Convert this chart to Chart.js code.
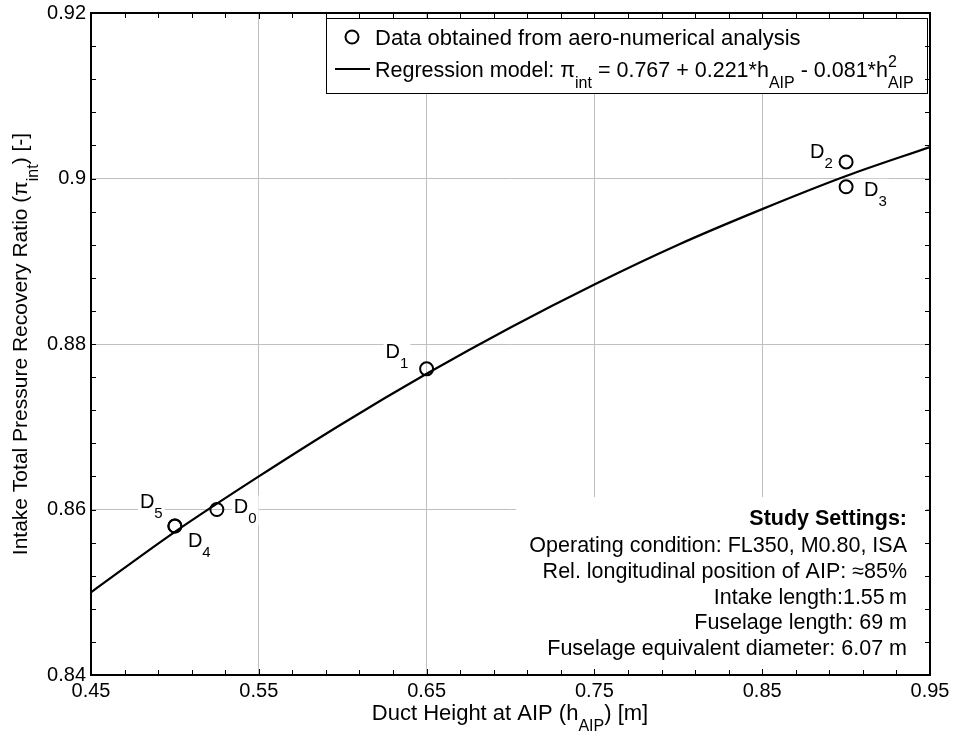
<!DOCTYPE html>
<html>
<head>
<meta charset="utf-8">
<script src="https://cdn.jsdelivr.net/npm/chart.js@4.4.0/dist/chart.umd.min.js"></script>
<style>
  html, body { margin: 0; padding: 0; background: #fff; }
</style>
</head>
<body>
<canvas id="ratioChart" width="957" height="733"></canvas>
<script>
// designs D0..D5 from the aero-numerical runs
const designNames = ['0', '1', '2', '3', '4', '5'];
const ductHeights = [0.525, 0.65, 0.90, 0.90, 0.50, 0.50];
const recoveryRatios = [0.860, 0.877, 0.902, 0.899, 0.858, 0.858];

// regression curve
const fitHeights = [0.45, 0.50, 0.55, 0.60, 0.65, 0.70, 0.75, 0.80, 0.85, 0.90, 0.95];
const fitRatios = [0.8500, 0.8573, 0.8640, 0.8704, 0.8764, 0.8820, 0.8872, 0.8920, 0.8963, 0.9003, 0.9038];

const xTickValues = [0.45, 0.55, 0.65, 0.75, 0.85, 0.95];
const xTickLabels = ['0.45', '0.55', '0.65', '0.75', '0.85', '0.95'];
const yTickValues = [0.84, 0.86, 0.88, 0.90, 0.92];
const yTickLabels = ['0.84', '0.86', '0.88', '0.9', '0.92'];

const settingsLines = [
    'Operating condition: FL350, M0.80, ISA',
    'Rel. longitudinal position of AIP: \u224885%',
    'Intake length:1.55\u2009m',
    'Fuselage length: 69 m',
    'Fuselage equivalent diameter: 6.07 m'
];

// where each D label sits relative to its marker (left of "D", baseline)
const labelOffsets = [[17, 3], [-41, -11], [-36, -4], [18, 9], [13, 21], [-35, -18]];

const FONT = '"Liberation Sans", Arial, Helvetica, sans-serif';

// text with optional sub/superscripts: parts are {t}, {sub}, {sup, sub}
function richWidth(ctx, parts, size) {
    let w = 0;
    parts.forEach(p => {
        if (p.t !== undefined) {
            ctx.font = size + 'px ' + FONT;
            w += ctx.measureText(p.t).width;
        } else {
            ctx.font = Math.round(size * 0.74) + 'px ' + FONT;
            const a = p.sub ? ctx.measureText(p.sub).width : 0;
            const b = p.sup ? ctx.measureText(p.sup).width : 0;
            w += Math.max(a, b);
        }
    });
    return w;
}

function drawRich(ctx, parts, x, y, size) {
    const small = Math.round(size * 0.74);
    ctx.textAlign = 'left';
    ctx.textBaseline = 'alphabetic';
    parts.forEach(p => {
        if (p.t !== undefined) {
            ctx.font = size + 'px ' + FONT;
            ctx.fillText(p.t, x, y);
            x += ctx.measureText(p.t).width;
        } else {
            ctx.font = small + 'px ' + FONT;
            let w = 0;
            if (p.sub) {
                ctx.fillText(p.sub, x, y + size * 0.52);
                w = ctx.measureText(p.sub).width;
            }
            if (p.sup) {
                ctx.fillText(p.sup, x, y - size * 0.48);
                w = Math.max(w, ctx.measureText(p.sup).width);
            }
            x += w;
        }
    });
}

const legendBox = { left: 326, top: 18, right: 928, bottom: 93 };
const settingsBox = { left: 516, top: 497, right: 926, bottom: 674 };

const annotations = {
    id: 'annotations',
    beforeDatasetsDraw(chart) {
        const ctx = chart.ctx;
        const xs = chart.scales.x, ys = chart.scales.y;
        ctx.save();
        ctx.fillStyle = '#fff';
        // label backgrounds hide the grid behind them
        designNames.forEach((n, i) => {
            const px = xs.getPixelForValue(ductHeights[i]) + labelOffsets[i][0];
            const py = ys.getPixelForValue(recoveryRatios[i]) + labelOffsets[i][1];
            const w = richWidth(ctx, [{ t: 'D' }, { sub: n }], 20);
            ctx.fillRect(px - 2, py - 17, w + 4, 30);
        });
        ctx.fillRect(settingsBox.left, settingsBox.top, settingsBox.right - settingsBox.left, settingsBox.bottom - settingsBox.top);
        ctx.fillRect(legendBox.left, legendBox.top, legendBox.right - legendBox.left, legendBox.bottom - legendBox.top);
        ctx.restore();
    },
    afterDatasetsDraw(chart) {
        const ctx = chart.ctx;
        const area = chart.chartArea;
        const xs = chart.scales.x, ys = chart.scales.y;
        ctx.save();
        ctx.fillStyle = '#000';
        ctx.strokeStyle = '#000';

        // D labels
        designNames.forEach((n, i) => {
            const px = xs.getPixelForValue(ductHeights[i]) + labelOffsets[i][0];
            const py = ys.getPixelForValue(recoveryRatios[i]) + labelOffsets[i][1];
            drawRich(ctx, [{ t: 'D' }, { sub: n }], px, py, 20);
        });

        // inward ticks on all four sides
        ctx.lineWidth = 1;
        ctx.beginPath();
        for (let v = 0.45; v <= 0.9501; v += 0.02) {
            const px = Math.round(xs.getPixelForValue(v)) + 0.5;
            ctx.moveTo(px, area.bottom); ctx.lineTo(px, area.bottom - 5);
            ctx.moveTo(px, area.top); ctx.lineTo(px, area.top + 5);
        }
        xTickValues.forEach(v => {
            const px = Math.round(xs.getPixelForValue(v)) + 0.5;
            ctx.moveTo(px, area.bottom); ctx.lineTo(px, area.bottom - 6);
            ctx.moveTo(px, area.top); ctx.lineTo(px, area.top + 6);
        });
        for (let v = 0.84; v <= 0.9201; v += 0.004) {
            const py = Math.round(ys.getPixelForValue(v)) + 0.5;
            ctx.moveTo(area.left, py); ctx.lineTo(area.left + 5, py);
            ctx.moveTo(area.right, py); ctx.lineTo(area.right - 5, py);
        }
        ctx.stroke();

        // axes box
        ctx.lineWidth = 2;
        ctx.strokeRect(area.left, area.top, area.right - area.left, area.bottom - area.top);

        // legend
        ctx.lineWidth = 1;
        ctx.strokeRect(legendBox.left + 0.5, legendBox.top + 0.5, legendBox.right - legendBox.left - 1, legendBox.bottom - legendBox.top);
        ctx.lineWidth = 2;
        ctx.beginPath();
        ctx.arc(352, 37, 6.5, 0, Math.PI * 2);
        ctx.stroke();
        ctx.beginPath();
        ctx.moveTo(335, 69); ctx.lineTo(370, 69);
        ctx.stroke();
        drawRich(ctx, [{ t: 'Data obtained from aero-numerical analysis' }], 375, 45, 22);
        drawRich(ctx, [
            { t: 'Regression model: \u03c0' }, { sub: 'int' },
            { t: ' = 0.767 + 0.221*h' }, { sub: 'AIP' },
            { t: ' - 0.081*h' }, { sup: '2', sub: 'AIP' }
        ], 375, 77, 21.5);

        // study settings
        ctx.textAlign = 'right';
        ctx.textBaseline = 'alphabetic';
        ctx.font = 'bold 21.5px ' + FONT;
        ctx.fillText('Study Settings:', 907, 525);
        ctx.font = '21.5px ' + FONT;
        settingsLines.forEach((s, i) => ctx.fillText(s, 907, 552 + i * 25.8));

        // axis titles
        const xTitle = [{ t: 'Duct Height at AIP (h' }, { sub: 'AIP' }, { t: ') [m]' }];
        const xw = richWidth(ctx, xTitle, 22);
        drawRich(ctx, xTitle, 510 - xw / 2, 720, 22);

        const yTitle = [{ t: 'Intake Total Pressure Recovery Ratio (\u03c0' }, { sub: 'int' }, { t: ') [-]' }];
        const yw = richWidth(ctx, yTitle, 21);
        ctx.translate(27, (area.top + area.bottom) / 2);
        ctx.rotate(-Math.PI / 2);
        drawRich(ctx, yTitle, -yw / 2, 0, 21);
        ctx.restore();
    }
};

const ctx = document.getElementById('ratioChart').getContext('2d');
const ratioChart = new Chart(ctx, {
    type: 'scatter',
    data: {
        datasets: [{
            label: 'Regression model',
            data: fitHeights.map((h, i) => ({ x: h, y: fitRatios[i] })),
            showLine: true,
            borderColor: '#000',
            borderWidth: 2.2,
            pointRadius: 0,
            cubicInterpolationMode: 'monotone',
            order: 2
        }, {
            label: 'Data obtained from aero-numerical analysis',
            data: ductHeights.map((h, i) => ({ x: h, y: recoveryRatios[i] })),
            showLine: false,
            pointStyle: 'circle',
            pointRadius: 6.5,
            pointBorderWidth: 2,
            pointBackgroundColor: 'rgba(0,0,0,0)',
            pointBorderColor: '#000',
            order: 1
        }]
    },
    options: {
        responsive: false,
        animation: false,
        devicePixelRatio: 1,
        layout: { padding: { top: 13, right: 27, left: 0, bottom: 0 } },
        plugins: { legend: { display: false }, tooltip: { enabled: false } },
        scales: {
            x: {
                type: 'linear', min: 0.45, max: 0.95,
                afterBuildTicks: s => { s.ticks = xTickValues.map(v => ({ value: v })); },
                afterFit: s => { s.height = 58; s.paddingLeft = 0; s.paddingRight = 0; },
                grid: { color: '#c0c0c0', lineWidth: 1, drawTicks: false },
                border: { display: false },
                ticks: {
                    color: '#000', padding: 4, maxRotation: 0, autoSkip: false,
                    font: { family: FONT, size: 20 },
                    callback: (v, i) => xTickLabels[i]
                }
            },
            y: {
                type: 'linear', min: 0.84, max: 0.92,
                afterBuildTicks: s => { s.ticks = yTickValues.map(v => ({ value: v })); },
                afterFit: s => { s.width = 91; s.paddingTop = 0; s.paddingBottom = 0; },
                grid: { color: '#c0c0c0', lineWidth: 1, drawTicks: false },
                border: { display: false },
                ticks: {
                    color: '#000', padding: 5, autoSkip: false,
                    font: { family: FONT, size: 20 },
                    callback: (v, i) => yTickLabels[i]
                }
            }
        }
    },
    plugins: [annotations]
});
</script>
</body>
</html>
